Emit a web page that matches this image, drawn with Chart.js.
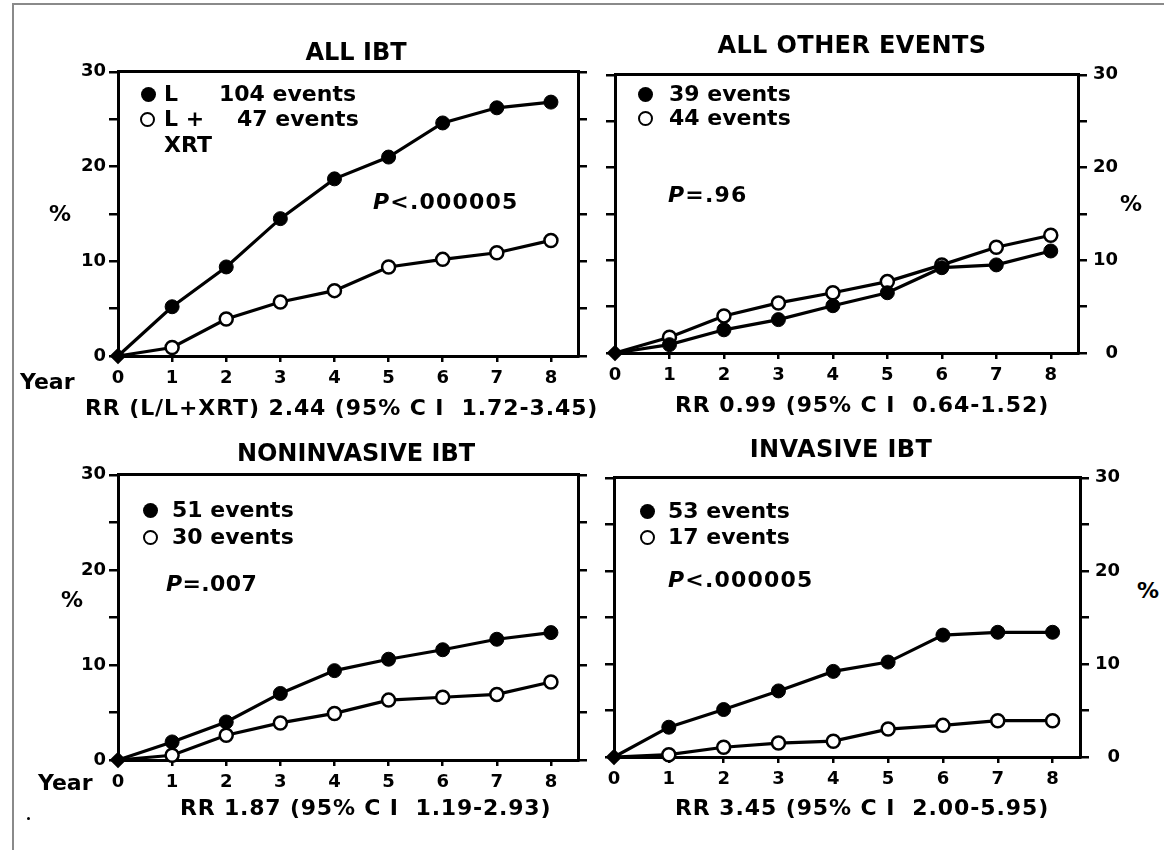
<!DOCTYPE html>
<html>
<head>
<meta charset="utf-8">
<title>IBT cumulative incidence</title>
<script src="https://cdn.jsdelivr.net/npm/chart.js@4.4.1/dist/chart.umd.min.js"></script>
<style>
  body { margin: 0; background: #fff; }
  #page { position: relative; width: 1164px; height: 850px; overflow: hidden; background: #fff; }
  #frame { position: absolute; left: 12px; top: 3px; width: 1170px; height: 870px;
           border-left: 2px solid #8a8a8a; border-top: 2px solid #8a8a8a; }
  canvas { position: absolute; }
  .t { position: absolute; font-family: "DejaVu Sans", sans-serif; font-weight: bold;
       color: #000; white-space: pre; line-height: 1; }
  .key { position: absolute; width: 15px; height: 15px; border-radius: 50%; box-sizing: border-box; }
  .key.f { background: #000; }
  .key.o { background: #fff; border: 2.5px solid #000; }
  .speck { position: absolute; width: 3px; height: 3px; border-radius: 50%; background: #000; }
</style>
</head>
<body>
<div id="page">
  <div id="frame"></div>
  <canvas id="c1"></canvas>
  <canvas id="c2"></canvas>
  <canvas id="c3"></canvas>
  <canvas id="c4"></canvas>
</div>
<script>
// years of follow-up
const years = [0, 1, 2, 3, 4, 5, 6, 7, 8];
const yTickValues = [0, 5, 10, 15, 20, 25, 30];
const yLabels = [0, 10, 20, 30];

// cumulative % by year, L (filled) and L + XRT (open)
const allIbtL = [0, 5.2, 9.4, 14.5, 18.7, 21.0, 24.6, 26.2, 26.8];
const allIbtLXrt = [0, 0.9, 3.9, 5.7, 6.9, 9.4, 10.2, 10.9, 12.2];
const otherL = [0, 0.9, 2.5, 3.6, 5.1, 6.5, 9.2, 9.5, 11.0];
const otherLXrt = [0, 1.7, 4.0, 5.4, 6.5, 7.7, 9.5, 11.4, 12.7];
const nonInvL = [0, 1.9, 4.0, 7.0, 9.4, 10.6, 11.6, 12.7, 13.4];
const nonInvLXrt = [0, 0.5, 2.6, 3.9, 4.9, 6.3, 6.6, 6.9, 8.2];
const invL = [0, 3.2, 5.1, 7.1, 9.2, 10.2, 13.1, 13.4, 13.4];
const invLXrt = [0, 0.25, 1.05, 1.5, 1.7, 3.0, 3.4, 3.9, 3.9];

const titles = ["ALL IBT", "ALL OTHER EVENTS", "NONINVASIVE IBT", "INVASIVE IBT"];
const eventsL = ["104 events", "39 events", "51 events", "53 events"];
const eventsLXrt = ["47 events", "44 events", "30 events", "17 events"];
const pValues = ["<.000005", "=.96", "=.007", "<.000005"];
const rrLines = [
  "RR (L/L+XRT) 2.44 (95% C I  1.72-3.45)",
  "RR 0.99 (95% C I  0.64-1.52)",
  "RR 1.87 (95% C I  1.19-2.93)",
  "RR 3.45 (95% C I  2.00-5.95)"
];

Chart.defaults.font.family = "'DejaVu Sans', sans-serif";
Chart.defaults.font.weight = "bold";
Chart.defaults.font.size = 18;
Chart.defaults.color = "#000";

const page = document.getElementById("page");

function put(html, x, y, size, center, spacing) {
  const d = document.createElement("div");
  d.className = "t";
  d.style.fontSize = size + "px";
  d.style.top = (y - size / 2) + "px";
  d.style.left = x + "px";
  if (spacing) d.style.letterSpacing = spacing + "px";
  if (center) d.style.transform = "translateX(-50%)";
  d.innerHTML = html;
  page.appendChild(d);
}

function key(kind, x, y) {
  const d = document.createElement("div");
  d.className = "key " + kind;
  d.style.left = (x - 7.5) + "px";
  d.style.top = (y - 7.5) + "px";
  page.appendChild(d);
}

function yScale(pos, width, showLabels) {
  return {
    type: "linear",
    position: pos,
    min: 0,
    max: 30,
    afterBuildTicks: s => { s.ticks = yTickValues.map(v => ({ value: v })); },
    afterFit: s => { s.width = width; },
    ticks: {
      display: showLabels,
      padding: pos === "left" ? 3 : 9,
      crossAlign: pos === "left" ? "near" : "far",
      callback: v => yLabels.includes(v) ? String(v) : ""
    },
    grid: { drawOnChartArea: false, drawTicks: true, tickLength: 9, lineWidth: 2.5, color: "#000" },
    border: { display: true, width: 3, color: "#000" }
  };
}

function makePanel(id, area, leftW, rightW, labelSide, filled, open) {
  const canvas = document.getElementById(id);
  const top = 12, bottom = 40;
  canvas.width = leftW + (area.r - area.l) + rightW;
  canvas.height = top + (area.b - area.t) + bottom;
  canvas.style.left = (area.l - leftW) + "px";
  canvas.style.top = (area.t - top) + "px";

  return new Chart(canvas, {
    type: "line",
    data: {
      datasets: [
        {
          data: years.map((x, i) => ({ x: x, y: filled[i] })),
          borderColor: "#000",
          borderWidth: 3.2,
          tension: 0,
          clip: false,
          pointRadius: 7,
          pointStyle: c => c.dataIndex === 0 ? "rectRot" : "circle",
          pointBackgroundColor: "#000",
          pointBorderColor: "#000",
          pointBorderWidth: 1
        },
        {
          data: years.map((x, i) => ({ x: x, y: open[i] })),
          borderColor: "#000",
          borderWidth: 3.2,
          tension: 0,
          clip: false,
          pointRadius: 6.5,
          pointStyle: c => c.dataIndex === 0 ? "rectRot" : "circle",
          pointBackgroundColor: c => c.dataIndex === 0 ? "#000" : "#fff",
          pointBorderColor: "#000",
          pointBorderWidth: 2.5
        }
      ]
    },
    options: {
      responsive: false,
      animation: false,
      devicePixelRatio: 1,
      events: [],
      layout: { padding: { top: top, left: 0, right: 0, bottom: 0 } },
      plugins: { legend: { display: false }, tooltip: { enabled: false } },
      scales: {
        x: {
          type: "linear",
          position: "bottom",
          min: 0,
          max: 8.5,
          afterBuildTicks: s => { s.ticks = years.map(v => ({ value: v })); },
          afterFit: s => { s.height = bottom; },
          ticks: { padding: 6, maxRotation: 0, autoSkip: false, callback: v => String(v) },
          grid: { drawOnChartArea: false, tickLength: 6, lineWidth: 2.5, color: "#000" },
          border: { width: 3, color: "#000" }
        },
        xt: {
          type: "linear",
          position: "top",
          min: 0,
          max: 8.5,
          afterFit: s => { s.height = 0; },
          ticks: { display: false },
          grid: { drawOnChartArea: false, drawTicks: false },
          border: { width: 3, color: "#000" }
        },
        y: yScale("left", leftW, labelSide === "left"),
        y2: yScale("right", rightW, labelSide === "right")
      }
    }
  });
}

makePanel("c1", { l: 118, r: 578, t: 70, b: 356 }, 60, 20, "left", allIbtL, allIbtLXrt);
makePanel("c2", { l: 615, r: 1078, t: 67, b: 353 }, 20, 40, "right", otherL, otherLXrt);
makePanel("c3", { l: 118, r: 578, t: 473, b: 760 }, 60, 20, "left", nonInvL, nonInvLXrt);
makePanel("c4", { l: 614, r: 1080, t: 470, b: 757 }, 20, 40, "right", invL, invLXrt);

// ALL IBT
put(titles[0], 356, 52, 24, true);
key("f", 148, 94);
put("L", 164, 94, 22);
put(eventsL[0], 219, 94, 22);
key("o", 147, 119);
put("L +", 164, 119, 22);
put(eventsLXrt[0], 237, 119, 22);
put("XRT", 164, 145, 22);
put("<i>P</i>" + pValues[0], 373, 202, 22, false, 1.2);
put("%", 49, 214, 22);
put("Year", 20, 382, 22);
put(rrLines[0], 85, 408, 22, false, 0.9);

// ALL OTHER EVENTS
put(titles[1], 852, 45, 24, true, 0.4);
key("f", 645, 94);
put(eventsL[1], 669, 94, 22);
key("o", 645, 118);
put(eventsLXrt[1], 669, 118, 22);
put("<i>P</i>" + pValues[1], 668, 195, 22, false, 1.2);
put("%", 1120, 204, 22);
put(rrLines[1], 675, 405, 22, false, 0.9);

// NONINVASIVE IBT
put(titles[2], 356, 453, 24, true);
key("f", 150, 510);
put(eventsL[2], 172, 510, 22);
key("o", 150, 537);
put(eventsLXrt[2], 172, 537, 22);
put("<i>P</i>" + pValues[2], 166, 584, 22, false, 0.4);
put("%", 61, 600, 22);
put("Year", 38, 783, 22);
put(rrLines[2], 180, 808, 22, false, 0.8);

// INVASIVE IBT
put(titles[3], 841, 449, 24, true, 0.4);
key("f", 647, 511);
put(eventsL[3], 668, 511, 22);
key("o", 647, 537);
put(eventsLXrt[3], 668, 537, 22);
put("<i>P</i>" + pValues[3], 668, 580, 22, false, 1.2);
put("%", 1137, 591, 22);
put(rrLines[3], 675, 808, 22, false, 0.9);

const speck = document.createElement("div");
speck.className = "speck";
speck.style.left = "27px";
speck.style.top = "817px";
page.appendChild(speck);
</script>
</body>
</html>
